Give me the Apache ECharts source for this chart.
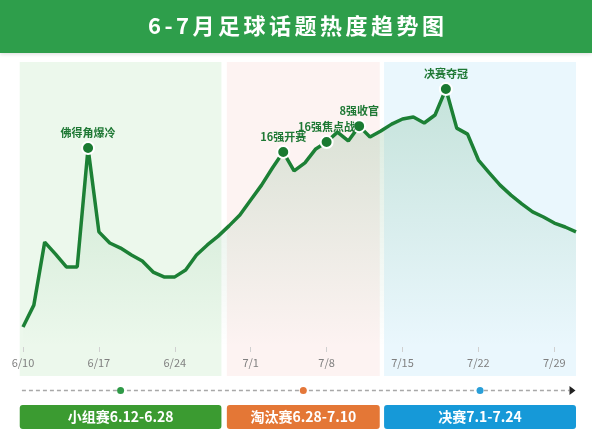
<!DOCTYPE html>
<html><head><meta charset="utf-8">
<script src="https://cdn.jsdelivr.net/npm/echarts@6/dist/echarts.min.js"></script>
<style>html,body{margin:0;padding:0;background:#fff}#c{width:592px;height:437px}</style>
</head><body><div id="c"></div>
<script>
const titleText = '6-7月足球话题热度趋势图';
const dates = ['6/10','6/11','6/12','6/13','6/14','6/15','6/16','6/17','6/18','6/19','6/20','6/21','6/22','6/23','6/24','6/25','6/26','6/27','6/28','6/29','6/30',
  '7/1','7/2','7/3','7/4','7/5','7/6','7/7','7/8','7/9','7/10','7/11','7/12','7/13','7/14','7/15','7/16','7/17','7/18','7/19','7/20','7/21','7/22','7/23','7/24','7/25','7/26','7/27','7/28','7/29','7/30','7/31'];
const heat = [7.0,14.7,36.8,32.6,28.1,28.1,69.8,40.4,36.5,34.7,32.3,30.2,26.3,24.6,24.6,27.0,32.3,35.8,38.9,42.5,46.3,
  51.6,56.8,62.8,68.4,61.8,64.6,69.5,71.9,75.4,72.3,77.5,73.7,75.8,78.2,80.0,80.7,78.6,81.4,90.5,76.8,74.7,65.6,61.1,56.8,53.3,50.2,47.4,45.6,43.5,42.1,40.4];
const eventNames = ['佛得角爆冷','16强开赛','16强焦点战','8强收官','决赛夺冠'];
const eventDates = ['6/16','7/4','7/8','7/11','7/19'];
const phaseNames = ['小组赛6.12-6.28','淘汰赛6.28-7.10','决赛7.1-7.24'];
const phaseSpans = [[-0.3,18.3],[18.8,32.9],[33.3,51.0]];
const phaseColors = ['#3b9b31','#e47736','#1699d8'];
const phaseDotColors = ['#2f9a47','#e4773a','#2a9fd8'];
const phaseBgColors = ['#ecf8ec','#fdf3f2','#eaf7fd'];

const FONT = '"Noto Sans CJK SC","Noto Sans",sans-serif';
const chart = echarts.init(document.getElementById('c'), null, {renderer:'canvas'});
const option = {
  animation:false,
  grid:{left:23,right:16,top:62,bottom:90},
  xAxis:{type:'category',data:dates,boundaryGap:false,
    axisLine:{show:false},
    axisTick:{show:true,interval:6,length:5,lineStyle:{color:'#d0d0d0'}},
    axisLabel:{interval:6,color:'#808080',fontSize:11,margin:10,fontFamily:FONT},
    splitLine:{show:false}},
  yAxis:{type:'value',min:0,max:100,show:false},
  series:[
    {type:'line',data:heat,symbol:'none',z:3,
      lineStyle:{color:'#1c8035',width:3.5},
      areaStyle:{color:new echarts.graphic.LinearGradient(0,0,0,1,[
        {offset:0,color:'rgba(40,140,70,0.27)'},{offset:1,color:'rgba(40,140,70,0.0)'}])}},
    {type:'scatter',z:4,
      data:eventDates.map((d,k)=>({value:[d, heat[dates.indexOf(d)]],name:eventNames[k]})),
      symbolSize:12,itemStyle:{color:'#1a7a31',borderColor:'#fff',borderWidth:2,opacity:1},
      emphasis:{disabled:true},
      label:{show:true,position:'top',distance:3,formatter:'{b}',color:'#1e7834',fontSize:11,fontWeight:'bold',fontFamily:FONT}}
  ]
};
chart.setOption(option);

const x0 = chart.convertToPixel({xAxisIndex:0}, 0);
const x1 = chart.convertToPixel({xAxisIndex:0}, dates.length-1);
const step = (x1-x0)/(dates.length-1);
const px = i => x0 + i*step;

const g = [];
g.push({type:'rect',z:5,shape:{x:0,y:0,width:592,height:53},style:{fill:'#2e9e4b',shadowBlur:4,shadowColor:'rgba(0,0,0,0.15)',shadowOffsetY:1}});
const cv = document.createElement('canvas').getContext('2d');
const tFont = 'bold 22px ' + FONT;
cv.font = tFont;
const ls = 3.5;
const chars = Array.from(titleText);
const widths = chars.map(c=>cv.measureText(c).width);
const total = widths.reduce((a,b)=>a+b,0) + ls*(chars.length-1);
let cx = 296 - total/2;
chars.forEach((c,k)=>{
  g.push({type:'text',z:6,style:{text:c,x:cx,y:26,fill:'#fff',font:tFont,textAlign:'left',textVerticalAlign:'middle',verticalAlign:'middle'}});
  cx += widths[k] + ls;
});
phaseSpans.forEach((s,k)=>{
  const a = px(s[0]), b = px(s[1]);
  g.push({type:'rect',z:-1,shape:{x:a,y:62,width:b-a,height:314},style:{fill:phaseBgColors[k]}});
  g.push({type:'rect',z:5,shape:{x:a,y:405,width:b-a,height:24,r:3},style:{fill:phaseColors[k]}});
  g.push({type:'text',z:6,style:{text:phaseNames[k],x:(a+b)/2,y:417,fill:'#fff',font:'bold 14px '+FONT,textAlign:'center',textVerticalAlign:'middle',verticalAlign:'middle'}});
});
g.push({type:'line',z:5,shape:{x1:px(-0.1),y1:390.5,x2:px(50.4),y2:390.5},style:{stroke:'#a8a8a8',lineWidth:1.5,lineDash:[4,3]}});
g.push({type:'polygon',z:5,shape:{points:[[px(50.4),386],[px(50.4)+6,390.5],[px(50.4),395]]},style:{fill:'#222'}});
phaseSpans.forEach((s,k)=>{
  g.push({type:'circle',z:6,shape:{cx:(px(s[0])+px(s[1]))/2,cy:390.5,r:3.5},style:{fill:phaseDotColors[k]}});
});
chart.setOption({graphic:{elements:g}});
</script></body></html>
